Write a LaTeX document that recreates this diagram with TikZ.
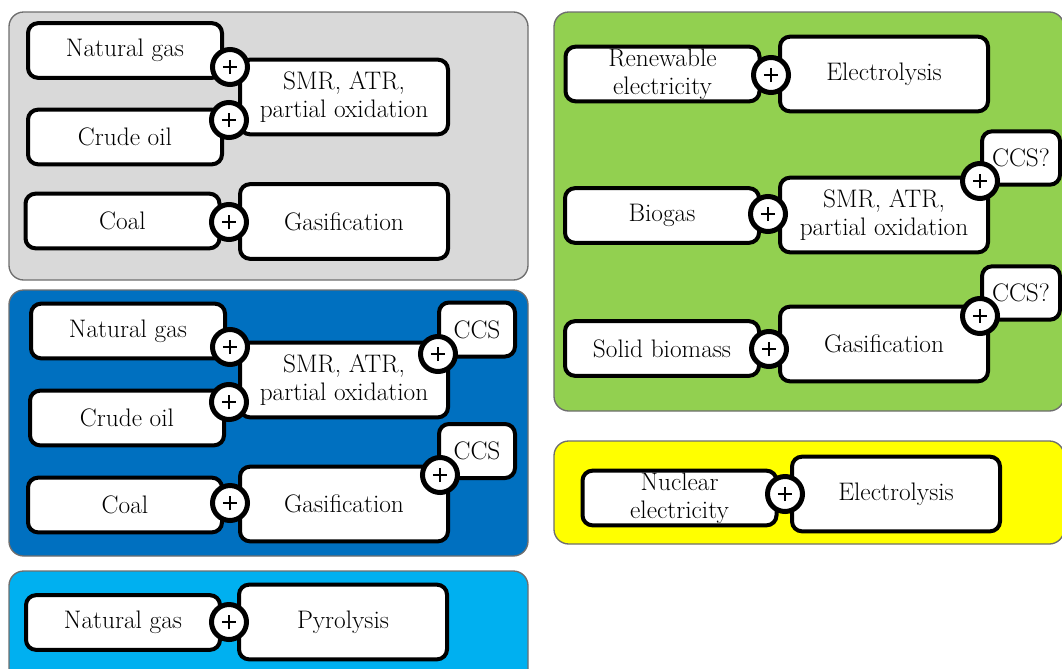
\documentclass[tikz,border=0pt]{standalone}
\usetikzlibrary{calc}
\definecolor{panelgray}{HTML}{D9D9D9}
\definecolor{panelblue}{HTML}{0070C0}
\definecolor{panellight}{HTML}{00B0F0}
\definecolor{panelgreen}{HTML}{92D050}
\definecolor{panelyellow}{HTML}{FFFF00}
\definecolor{paneledge}{HTML}{6E6E6E}
\begin{document}
\begin{tikzpicture}[x=0.75pt,y=-0.75pt,
  panel/.style={draw=paneledge,line width=1pt,rounded corners=11pt},
  base/.style={draw=black,fill=white,line width=3pt,rounded corners=7.5pt,
    font=\fontsize{19}{21}\selectfont,align=center,inner sep=0pt},
  inbox/.style={base,minimum width=145.5pt,minimum height=41pt},
  procbox/.style={base,minimum width=156pt,minimum height=56pt},
  ccsbox/.style={base,minimum width=57pt,minimum height=40.5pt},
  ccsqbox/.style={base,minimum width=58.5pt,minimum height=40pt},
  plus/.style={circle,draw=black,fill=white,line width=3.75pt,minimum size=26.25pt,inner sep=0pt,
    path picture={\draw[line width=2pt]
      ([xshift=-5.4pt]path picture bounding box.center) -- ([xshift=5.4pt]path picture bounding box.center)
      ([yshift=-5.4pt]path picture bounding box.center) -- ([yshift=5.4pt]path picture bounding box.center);}}
]
\useasboundingbox (0,0) rectangle (1062,668);
% panels
\draw[panel,fill=panelgray] (9,12) rectangle (528,280);
\draw[panel,fill=panelblue] (9,290) rectangle (528,556);
\draw[panel,fill=panellight] (9,571) rectangle (528,700);
\draw[panel,fill=panelgreen] (554,12) rectangle (1064,411);
\draw[panel,fill=panelyellow] (554,441) rectangle (1064,544);

% ---- gray panel
\node[inbox] (ngA) at (125,50.5) {Natural gas};
\node[inbox] (coA) at (125,137) {Crude oil};
\node[procbox] (smrA) at (344,97) {SMR, ATR,\\partial oxidation};
\node[inbox] (coalA) at (122.5,221) {Coal};
\node[procbox] (gasA) at (344,221.5) {Gasification};
\node[plus] (pA1) at (230,67) {};
\node[plus] (pA2) at (229,120) {};
\node[plus] (pA3) at (229,222) {};

% ---- dark blue panel
\node[ccsbox] (ccsB1) at (477,329.5) {CCS};
\node[ccsbox] (ccsB2) at (477,451) {CCS};
\node[inbox] (ngB) at (128,331) {Natural gas};
\node[inbox] (coB) at (127,418) {Crude oil};
\node[procbox] (smrB) at (344,380) {SMR, ATR,\\partial oxidation};
\node[inbox] (coalB) at (125,505) {Coal};
\node[procbox] (gasB) at (344,504) {Gasification};
\node[plus] (pB1) at (230,347) {};
\node[plus] (pB2) at (229,402) {};
\node[plus] (pB3) at (438,354) {};
\node[plus] (pB4) at (440,475) {};
\node[plus] (pB5) at (230,503) {};

% ---- light blue panel
\node[inbox] (ngC) at (123,622.5) {Natural gas};
\node[procbox] (pyC) at (343,622) {Pyrolysis};
\node[plus] (pC1) at (229,622) {};

% ---- green panel
\node[ccsqbox] (ccsD1) at (1021,158) {CCS?};
\node[ccsqbox] (ccsD2) at (1021,293) {CCS?};
\node[inbox] (renD) at (662.5,74) {Renewable\\electricity};
\node[procbox] (elD) at (884,74) {Electrolysis};
\node[inbox] (bioD) at (662,215.5) {Biogas};
\node[procbox] (smrD) at (884,215) {SMR, ATR,\\partial oxidation};
\node[inbox] (sbD) at (662,348.5) {Solid biomass};
\node[procbox] (gasD) at (884,344) {Gasification};
\node[plus] (pD1) at (771,75) {};
\node[plus] (pD2) at (980,181) {};
\node[plus] (pD3) at (768,214) {};
\node[plus] (pD4) at (980,316) {};
\node[plus] (pD5) at (769,349) {};

% ---- yellow panel
\node[inbox] (nucE) at (679.5,498) {Nuclear\\electricity};
\node[procbox] (elE) at (896,494) {Electrolysis};
\node[plus] (pE1) at (785,494) {};
\end{tikzpicture}
\end{document}
